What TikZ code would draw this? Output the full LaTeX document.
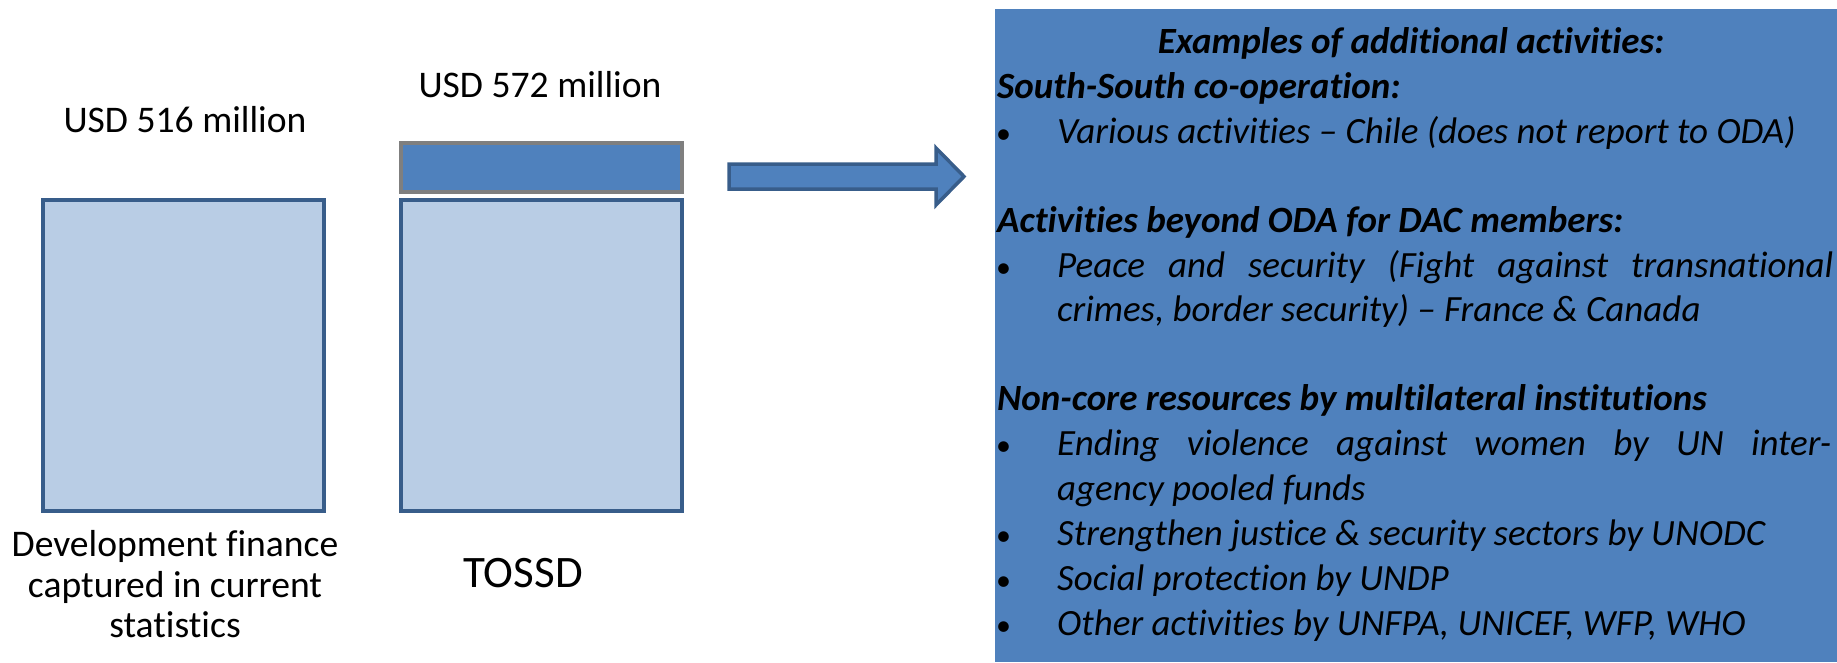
\documentclass[tikz,border=0pt]{standalone}
\usepackage{fontspec}
\usetikzlibrary{calc}
\setmainfont{Carlito}[Ligatures={NoCommon}]
\definecolor{panelblue}{HTML}{4F81BD}
\definecolor{paleblue}{HTML}{B9CDE5}
\definecolor{edgeblue}{HTML}{385D8A}
\definecolor{edgegray}{HTML}{7F7F7F}
\tikzset{
  bar/.style={draw=edgeblue, fill=paleblue, line width=4pt, minimum width=281pt,
    inner sep=0pt, outer sep=0pt},
  extra/.style={draw=edgegray, fill=panelblue, line width=4.5pt, minimum width=281pt,
    minimum height=49pt, inner sep=0pt, outer sep=0pt},
  amount/.style={anchor=base, inner sep=0pt, font=\fontsize{37.6}{44}\selectfont},
  headline/.style={anchor=base west, inner sep=0pt, font=\fontsize{37}{44}\selectfont\bfseries\itshape},
  itemline/.style={anchor=base west, inner sep=0pt, font=\fontsize{37}{44}\selectfont\itshape},
  bulletmark/.style={anchor=base west, inner sep=0pt, font=\fontsize{30}{40}\selectfont},
  blockarrow/.style={draw=edgeblue, fill=panelblue, line width=3.5pt, line join=miter},
}
\begin{document}
\begin{tikzpicture}[x=1pt,y=-1pt]
\useasboundingbox (0,0) rectangle (1837,662);

% bars
\node[bar, minimum height=311pt] (current) at (183.5,355.5) {};
\node[bar, minimum height=311pt] (tossd) at (541.5,355.5) {};
\node[extra] (additional) at (541.5,167.5) {};

% amounts above the bars
\node[amount] (amt516) at (185,132) {USD 516 million};
\node[amount] (amt572) at (540,97) {USD 572 million};

% captions below the bars
\node[amount] (cap1) at (175,556) {Development finance};
\node[amount] (cap2) at (175,597) {captured in current};
\node[amount] (cap3) at (175,637) {statistics};
\node[amount, font=\fontsize{45}{52}\selectfont] (captossd) at (523,587) {TOSSD};

% block arrow
\coordinate (arrtail) at (729,176.5);
\coordinate (arrtip) at (964,176.5);
\draw[blockarrow] ($(arrtail)+(0,-12.5)$) -- (936,164) -- (936,148) -- (arrtip)
  -- (936,205) -- (936,189) -- ($(arrtail)+(0,12.5)$) -- cycle;

% examples panel
\fill[panelblue] (995,9) rectangle (1837,662);
\node[headline, anchor=base] (title) at (1411,53) {Examples of additional activities:};
\node[headline] (ss) at (997,98) {South-South co-operation:};
\node[bulletmark] (b1) at (996,143) {•};
\node[itemline] (i1) at (1057,143) {Various activities – Chile (does not report to ODA)};
\node[headline] (beyond) at (997,232) {Activities beyond ODA for DAC members:};
\node[bulletmark] (b2) at (996,277) {•};
\node[itemline] (i2) at (1057,277) {\makebox[776pt][s]{Peace and security (Fight against transnational}};
\node[itemline] (i2b) at (1057,321) {crimes, border security) – France \& Canada};
\node[headline] (noncore) at (997,410) {Non-core resources by multilateral institutions};
\node[bulletmark] (b3) at (996,455) {•};
\node[itemline] (i3) at (1057,455) {\makebox[774pt][s]{Ending violence against women by UN inter-}};
\node[itemline] (i3b) at (1057,500) {agency pooled funds};
\node[bulletmark] (b4) at (996,545) {•};
\node[itemline] (i4) at (1057,545) {Strengthen justice \& security sectors by UNODC};
\node[bulletmark] (b5) at (996,590) {•};
\node[itemline] (i5) at (1057,590) {Social protection by UNDP};
\node[bulletmark] (b6) at (996,635) {•};
\node[itemline] (i6) at (1057,635) {Other activities by UNFPA, UNICEF, WFP, WHO};
\end{tikzpicture}
\end{document}
